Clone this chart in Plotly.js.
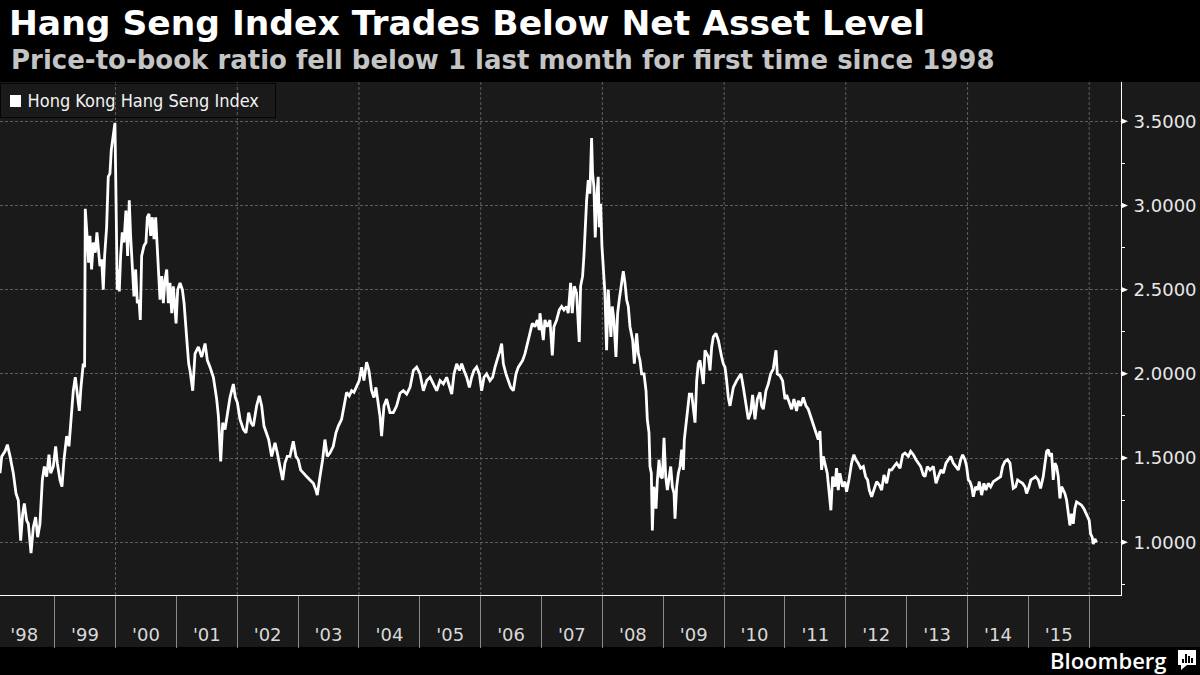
<!DOCTYPE html>
<html>
<head>
<meta charset="utf-8">
<script src="https://cdn.plot.ly/plotly-3.0.1.min.js"></script>
<style>
  html, body { margin: 0; padding: 0; background: #000; }
  #chart { width: 1200px; height: 675px; }
</style>
</head>
<body>
<div id="chart"></div>
<script>
// ---- Data: Hang Seng Index price-to-book ratio (dates as decimal years) ----
const tYears = [
1998.101,1998.129,1998.183,1998.222,1998.266,1998.320,1998.364,1998.402,1998.441,1998.474,1998.501,1998.539,1998.567,1998.611,1998.649,1998.687,1998.720,1998.758,1998.797,1998.830,1998.868,1998.906,1998.934,1998.978,
1999.016,1999.043,1999.087,1999.120,1999.153,1999.197,1999.235,1999.268,1999.306,1999.339,1999.377,1999.405,1999.432,1999.470,1999.492,1999.503,1999.536,1999.558,1999.580,1999.607,1999.635,1999.668,1999.695,1999.722,1999.744,1999.772,1999.799,1999.821,1999.854,1999.881,1999.909,1999.931,1999.953,1999.974,1999.991,
2000.002,2000.013,2000.029,2000.046,2000.062,2000.084,2000.111,2000.139,2000.171,2000.199,2000.226,2000.248,2000.276,2000.303,2000.330,2000.358,2000.385,2000.407,2000.429,2000.467,2000.500,2000.522,2000.549,2000.577,2000.604,2000.632,2000.659,2000.675,2000.708,2000.730,2000.758,2000.785,2000.812,2000.840,2000.867,2000.894,2000.922,2000.949,2000.993,
2001.020,2001.059,2001.097,2001.125,2001.152,2001.179,2001.201,2001.223,2001.267,2001.305,2001.360,2001.415,2001.470,2001.508,2001.552,2001.607,2001.661,2001.689,2001.727,2001.760,2001.798,2001.837,2001.880,2001.935,2001.968,
2002.001,2002.045,2002.100,2002.143,2002.187,2002.225,2002.264,2002.318,2002.362,2002.401,2002.439,2002.483,2002.516,2002.565,2002.620,2002.658,2002.702,2002.746,2002.784,2002.822,2002.866,2002.921,2002.965,
2003.003,2003.041,2003.085,2003.140,2003.195,2003.250,2003.293,2003.315,2003.359,2003.403,2003.441,2003.480,2003.523,2003.578,2003.622,2003.661,2003.715,2003.754,2003.797,2003.841,2003.880,2003.918,2003.962,
2004.005,2004.044,2004.082,2004.126,2004.164,2004.208,2004.246,2004.279,2004.318,2004.345,2004.372,2004.411,2004.454,2004.509,2004.564,2004.619,2004.674,2004.728,2004.783,2004.838,2004.893,2004.947,
2005.002,2005.057,2005.112,2005.167,2005.221,2005.276,2005.331,2005.386,2005.440,2005.495,2005.523,2005.561,2005.605,2005.649,2005.687,2005.725,2005.769,2005.813,2005.851,2005.889,2005.933,2005.977,
2006.015,2006.054,2006.097,2006.152,2006.196,2006.235,2006.273,2006.317,2006.344,2006.372,2006.415,2006.454,2006.492,2006.536,2006.580,2006.618,2006.656,2006.689,2006.728,2006.766,2006.810,2006.848,2006.892,2006.930,2006.963,2006.974,
2007.001,2007.029,2007.056,2007.094,2007.138,2007.177,2007.204,2007.248,2007.292,2007.330,2007.368,2007.412,2007.439,2007.478,2007.505,2007.538,2007.576,2007.620,2007.642,2007.675,2007.697,2007.719,2007.741,2007.768,2007.795,2007.823,2007.839,2007.861,2007.883,2007.905,2007.932,2007.949,2007.971,2007.993,
2008.015,2008.042,2008.069,2008.097,2008.124,2008.140,2008.162,2008.190,2008.223,2008.250,2008.277,2008.305,2008.343,2008.371,2008.398,2008.425,2008.453,2008.497,2008.524,2008.562,2008.590,2008.617,2008.644,2008.683,2008.716,2008.737,2008.765,2008.781,2008.803,2008.820,2008.842,2008.864,2008.880,2008.902,2008.929,2008.957,2008.984,
2009.011,2009.039,2009.066,2009.094,2009.121,2009.148,2009.176,2009.192,2009.219,2009.247,2009.274,2009.302,2009.329,2009.345,2009.373,2009.400,2009.428,2009.466,2009.493,2009.521,2009.548,2009.575,2009.603,2009.630,2009.658,2009.685,2009.712,2009.740,2009.767,2009.795,2009.822,2009.866,2009.904,2009.932,2009.959,2009.986,
2010.014,2010.041,2010.068,2010.096,2010.151,2010.205,2010.277,2010.315,2010.359,2010.397,2010.435,2010.468,2010.507,2010.545,2010.589,2010.616,2010.644,2010.687,2010.726,2010.764,2010.808,2010.852,2010.874,2010.917,2010.961,
2011.000,2011.027,2011.071,2011.109,2011.147,2011.191,2011.219,2011.257,2011.301,2011.345,2011.383,2011.421,2011.465,2011.509,2011.547,2011.575,2011.602,2011.629,2011.657,2011.695,2011.728,2011.755,2011.783,2011.821,2011.848,2011.876,2011.903,2011.947,2011.985,
2012.013,2012.051,2012.095,2012.133,2012.166,2012.204,2012.243,2012.287,2012.325,2012.358,2012.385,2012.424,2012.462,2012.506,2012.550,2012.588,2012.626,2012.670,2012.714,2012.752,2012.791,2012.834,2012.889,2012.933,2012.971,
2013.026,2013.064,2013.108,2013.152,2013.190,2013.229,2013.272,2013.300,2013.338,2013.382,2013.437,2013.481,2013.519,2013.563,2013.601,2013.645,2013.683,2013.722,2013.765,2013.809,2013.848,2013.886,2013.919,2013.957,2013.984,
2014.012,2014.039,2014.067,2014.094,2014.132,2014.165,2014.193,2014.231,2014.269,2014.302,2014.340,2014.379,2014.423,2014.461,2014.505,2014.543,2014.576,2014.614,2014.658,2014.697,2014.724,2014.751,2014.790,2014.822,2014.861,2014.905,2014.943,2014.970,
2015.009,2015.041,2015.080,2015.118,2015.162,2015.200,2015.244,2015.272,2015.299,2015.326,2015.354,2015.381,2015.408,2015.436,2015.463,2015.491,2015.518,2015.545,2015.573,2015.600,2015.628,2015.655,2015.682,2015.710,2015.737,2015.764,2015.792,2015.836,2015.874,2015.912,2015.945,2015.973,
2016.000,2016.022,2016.049,2016.066,2016.093,2016.120
];
const pbRatio = [
1.41,1.51,1.54,1.58,1.51,1.41,1.29,1.25,1.01,1.17,1.23,1.13,1.11,0.935,1.09,1.15,1.03,1.11,1.37,1.45,1.39,1.52,1.41,1.45,
1.57,1.47,1.37,1.33,1.49,1.63,1.57,1.75,1.90,1.98,1.87,1.78,1.92,2.06,2.04,2.98,2.80,2.66,2.82,2.62,2.78,2.72,2.84,2.70,2.64,2.68,2.50,2.70,2.87,3.17,3.19,3.33,3.39,3.43,3.49,
3.21,2.82,2.50,2.62,2.49,2.70,2.84,2.78,2.97,2.70,3.03,2.82,2.66,2.46,2.62,2.42,2.44,2.32,2.70,2.76,2.78,2.93,2.95,2.82,2.93,2.80,2.93,2.82,2.62,2.44,2.58,2.42,2.56,2.62,2.42,2.54,2.36,2.52,2.30,
2.50,2.54,2.50,2.42,2.26,2.16,2.06,2.02,1.90,2.12,2.16,2.10,2.18,2.08,2.04,1.98,1.85,1.75,1.48,1.71,1.67,1.75,1.86,1.94,1.86,
1.83,1.73,1.67,1.65,1.77,1.71,1.69,1.81,1.87,1.81,1.69,1.65,1.61,1.51,1.59,1.53,1.45,1.37,1.47,1.51,1.51,1.60,1.51,
1.49,1.43,1.41,1.39,1.37,1.35,1.31,1.28,1.39,1.49,1.61,1.51,1.53,1.57,1.65,1.69,1.73,1.81,1.89,1.87,1.90,1.89,1.93,
1.96,2.04,1.96,2.07,2.02,1.90,1.86,1.92,1.81,1.75,1.63,1.81,1.85,1.77,1.77,1.81,1.885,1.90,1.88,1.92,2.02,2.04,
2.00,1.90,1.96,1.98,1.94,1.90,1.96,1.94,1.98,1.92,1.88,2.00,2.06,2.02,2.06,2.02,1.98,1.92,1.98,2.02,2.04,2.00,
1.90,1.98,2.00,1.96,1.98,2.04,2.08,2.14,2.18,2.06,2.00,1.96,1.92,1.90,2.00,2.04,2.06,2.08,2.12,2.18,2.24,2.30,2.28,2.32,2.26,2.36,
2.28,2.20,2.32,2.28,2.32,2.11,2.28,2.32,2.38,2.40,2.38,2.40,2.36,2.54,2.36,2.52,2.48,2.19,2.52,2.58,2.70,2.87,3.03,3.15,3.07,3.40,3.19,3.11,2.81,3.03,3.17,2.87,3.01,2.76,
2.60,2.48,2.14,2.50,2.32,2.22,2.40,2.32,2.10,2.36,2.44,2.52,2.61,2.54,2.44,2.40,2.28,2.20,2.06,2.24,2.12,2.08,2.00,2.00,1.90,1.73,1.65,1.45,1.41,1.07,1.33,1.29,1.20,1.37,1.49,1.39,1.38,
1.62,1.39,1.31,1.37,1.45,1.33,1.29,1.14,1.33,1.41,1.45,1.55,1.43,1.61,1.71,1.77,1.88,1.88,1.81,1.71,1.96,2.06,2.08,2.00,1.94,2.14,2.12,2.10,2.02,2.16,2.22,2.24,2.20,2.14,2.10,2.06,
2.04,1.96,1.86,1.81,1.92,1.96,2.00,1.92,1.81,1.73,1.77,1.875,1.73,1.85,1.89,1.81,1.79,1.90,1.94,2.00,2.03,2.14,2.00,1.99,1.96,
1.85,1.875,1.83,1.79,1.85,1.78,1.84,1.81,1.86,1.81,1.79,1.75,1.70,1.65,1.61,1.66,1.43,1.51,1.47,1.41,1.29,1.19,1.39,1.33,1.44,1.31,1.41,1.33,1.36,
1.30,1.37,1.47,1.52,1.49,1.47,1.44,1.45,1.39,1.37,1.31,1.27,1.31,1.36,1.34,1.31,1.40,1.35,1.43,1.43,1.45,1.47,1.44,1.52,1.53,
1.51,1.54,1.52,1.49,1.47,1.45,1.40,1.39,1.45,1.43,1.45,1.35,1.39,1.43,1.41,1.47,1.49,1.51,1.47,1.45,1.43,1.49,1.52,1.49,1.45,
1.37,1.36,1.33,1.27,1.33,1.31,1.36,1.28,1.35,1.31,1.35,1.33,1.36,1.37,1.38,1.39,1.45,1.48,1.49,1.47,1.39,1.32,1.33,1.37,1.36,1.35,1.33,1.29,
1.33,1.37,1.38,1.39,1.37,1.32,1.39,1.47,1.54,1.55,1.51,1.53,1.37,1.47,1.45,1.39,1.26,1.33,1.31,1.29,1.25,1.17,1.10,1.17,1.11,1.20,1.24,1.23,1.22,1.20,1.17,1.15,
1.13,1.05,1.03,0.99,1.02,1.00
];
const seriesName = 'Hong Kong Hang Seng Index';
const yTicks = [1.0, 1.5, 2.0, 2.5, 3.0, 3.5];
const yMinorTicks = [0.75, 1.25, 1.75, 2.25, 2.75, 3.25];
const yRange = [0.687, 3.733];
const labelYears = [1998,1999,2000,2001,2002,2003,2004,2005,2006,2007,2008,2009,2010,2011,2012,2013,2014,2015];
const separatorYears = [1999,2000,2001,2002,2003,2004,2005,2006,2007,2008,2009,2010,2011,2012,2013,2014,2015,2016];
const gridYears = [2000,2002,2004,2006,2008,2010,2012,2014,2016];
const xRangeYears = [1998.101, 2016.521];

// ---- helpers ----
function toDate(t) {
  const y = Math.floor(t);
  const a = Date.UTC(y, 0, 1), b = Date.UTC(y + 1, 0, 1);
  return new Date(a + (t - y) * (b - a)).toISOString().slice(0, 16).replace('T', ' ');
}
const W = 1200, H = 675;
const M = { l: 0, r: 79, t: 82, b: 80 };
const PW = W - M.l - M.r, PH = H - M.t - M.b;
const px = x => (x - M.l) / PW;            // pixel x -> paper x
const py = y => (H - M.b - y) / PH;        // pixel y -> paper y
const vy = v => (v - yRange[0]) / (yRange[1] - yRange[0]);

const dates = tYears.map(toDate);

const trace = {
  type: 'scatter', mode: 'lines',
  x: dates, y: pbRatio, name: seriesName,
  line: { color: '#ffffff', width: 2.8 },
  showlegend: false, hoverinfo: 'x+y'
};

const shapes = [];
// dark chart panel
shapes.push({ type: 'rect', xref: 'paper', yref: 'paper', x0: px(0), x1: px(1200), y0: py(647), y1: py(82),
  fillcolor: '#1a1a1a', line: { width: 0 }, layer: 'below' });
// vertical dashed gridlines every two years
gridYears.forEach(y => shapes.push({ type: 'line', xref: 'x', yref: 'paper', x0: y + '-01-01', x1: y + '-01-01', y0: 0, y1: 1,
  line: { color: '#5e5e5e', width: 1, dash: '3px,2px' }, layer: 'below' }));
// triangular major tick markers on y axis
yTicks.forEach(v => {
  const c = vy(v), h = 3 / PH;
  shapes.push({ type: 'path', xref: 'paper', yref: 'paper',
    path: `M ${px(1121)} ${c + h} L ${px(1128)} ${c} L ${px(1121)} ${c - h} Z`,
    fillcolor: '#ffffff', line: { width: 0 } });
});
// legend swatch
shapes.push({ type: 'rect', xref: 'paper', yref: 'paper', x0: px(10), x1: px(21), y0: py(107), y1: py(95),
  fillcolor: '#ffffff', line: { width: 0 } });
// Bloomberg icon
shapes.push({ type: 'path', xref: 'paper', yref: 'paper',
  path: `M ${px(1178)} ${py(650)} L ${px(1196)} ${py(650)} L ${px(1196)} ${py(665)} L ${px(1187)} ${py(665)} L ${px(1181)} ${py(670)} L ${px(1181)} ${py(665)} L ${px(1178)} ${py(665)} Z`,
  fillcolor: '#ffffff', line: { width: 0 } });
[[1182, 659], [1185, 654], [1188, 656], [1191, 658]].forEach(([x, top]) => shapes.push({
  type: 'rect', xref: 'paper', yref: 'paper', x0: px(x), x1: px(x + 2), y0: py(663), y1: py(top),
  fillcolor: '#000000', line: { width: 0 } }));

const annotations = [
  { xref: 'paper', yref: 'paper', x: px(9), y: py(60), xanchor: 'left', yanchor: 'middle', showarrow: false,
    text: 'Price-to-book ratio fell below 1 last month for first time since 1998',
    font: { family: 'DejaVu Sans', size: 26, weight: 'bold', color: '#c4c4c4' } },
  { xref: 'paper', yref: 'paper', x: px(0), y: py(83), xanchor: 'left', yanchor: 'top', showarrow: false,
    text: '    ' + seriesName + '  ', align: 'left',
    font: { family: 'DejaVu Sans Condensed, DejaVu Sans', size: 18, color: '#f2f2f2' },
    bgcolor: 'rgba(0,0,0,0)', bordercolor: '#050505', borderwidth: 1, borderpad: 6 },
  { xref: 'paper', yref: 'paper', x: px(1169), y: py(660), xanchor: 'right', yanchor: 'middle', showarrow: false,
    text: 'Bloomberg', font: { family: 'Open Sans', size: 22, weight: 600, color: '#ffffff' } }
];

const layout = {
  width: W, height: H,
  margin: M,
  paper_bgcolor: '#000000', plot_bgcolor: '#1a1a1a',
  showlegend: false,
  title: { text: 'Hang Seng Index Trades Below Net Asset Level', xref: 'container', yref: 'container',
    x: 9 / W, xanchor: 'left', y: 1 - 23 / H, yanchor: 'middle',
    font: { family: 'DejaVu Sans', size: 34.5, weight: 'bold', color: '#ffffff' } },
  xaxis: {
    type: 'date', range: xRangeYears.map(toDate), automargin: false,
    showgrid: false, zeroline: false,
    showline: true, linecolor: '#ffffff', linewidth: 1,
    tickmode: 'array', tickvals: labelYears.map(y => y + '-07-02'),
    ticktext: labelYears.map(y => "'" + String(y).slice(2)),
    ticks: 'outside', ticklen: 23, tickcolor: 'rgba(0,0,0,0)',
    tickfont: { family: 'DejaVu Sans', size: 18, color: '#d9d9d9' },
    minor: { tickmode: 'array', tickvals: separatorYears.map(y => y + '-01-01'), ticks: 'outside', ticklen: 52,
      tickcolor: '#8a8a8a', tickwidth: 1, showgrid: false }
  },
  yaxis: {
    side: 'right', range: yRange, automargin: false, zeroline: false,
    tickmode: 'array', tickvals: yTicks, tickformat: '.4f',
    showgrid: true, gridcolor: '#5e5e5e', gridwidth: 1, griddash: '3px,2px',
    showline: true, linecolor: '#ffffff', linewidth: 1,
    ticks: 'outside', ticklen: 8, tickcolor: 'rgba(0,0,0,0)',
    tickfont: { family: 'DejaVu Sans', size: 18, color: '#e8e8e8' },
    minor: { tickmode: 'array', tickvals: yMinorTicks, ticks: 'outside', ticklen: 3, tickcolor: '#ffffff', showgrid: false }
  },
  shapes: shapes,
  annotations: annotations
};

Plotly.newPlot('chart', [trace], layout, { displayModeBar: false, staticPlot: true });
</script>
</body>
</html>
